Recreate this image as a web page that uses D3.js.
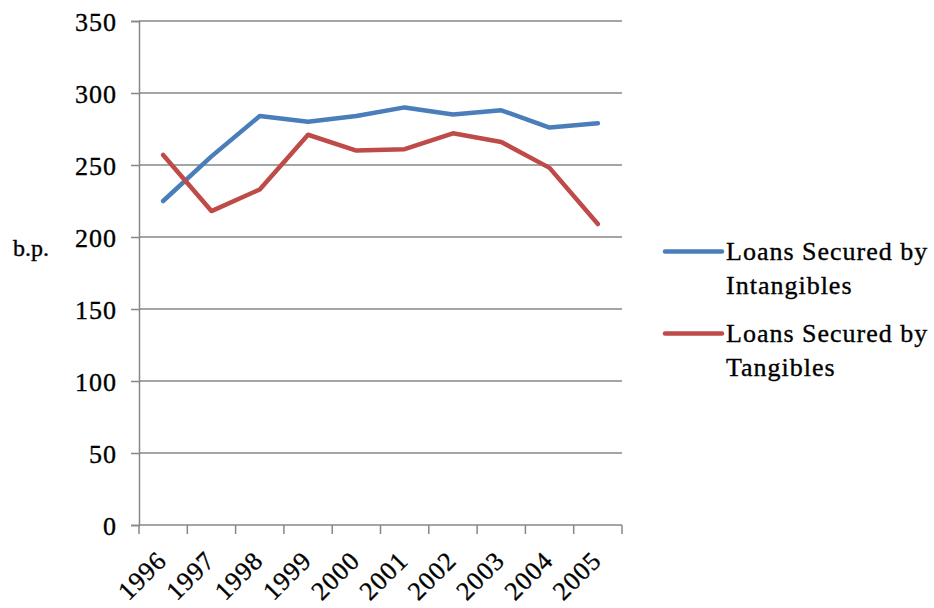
<!DOCTYPE html>
<html><head><meta charset="utf-8">
<script src="https://cdn.jsdelivr.net/npm/d3@7"></script>
<style>
html,body{margin:0;padding:0;background:#fff;}
svg{display:block;}
text{font-family:"Liberation Serif","Times New Roman",serif;fill:#000;stroke:#000;stroke-width:0.35px;}
</style></head>
<body>
<svg id="chart" width="934" height="608"></svg>
<script>
const years = ["1996","1997","1998","1999","2000","2001","2002","2003","2004","2005"];
const intangibles = [225, 256, 284, 280, 284, 290, 285, 288, 276, 279];
const tangibles = [257, 218, 233, 271, 260, 261, 272, 266, 248, 209];
const yTicks = [0, 50, 100, 150, 200, 250, 300, 350];
const seriesNames = [["Loans Secured by", "Intangibles"], ["Loans Secured by", "Tangibles"]];
const seriesColors = ["#4a7ebb", "#be4b48"];

const svg = d3.select("#chart");
const x = d3.scaleBand().domain(years).range([139, 622]);
const y = d3.scaleLinear().domain([0, 350]).range([525, 21]);
const grid = "#878787";

// gridlines
svg.append("g").selectAll("line").data(yTicks.filter(d => d > 0)).join("line")
  .attr("x1", 139).attr("x2", 622)
  .attr("y1", d => y(d)).attr("y2", d => y(d))
  .attr("stroke", grid).attr("stroke-width", 1.5);

// y axis
const yAxis = svg.append("g").attr("transform", "translate(139,0)")
  .call(d3.axisLeft(y).tickValues(yTicks).tickSize(8).tickPadding(0).tickFormat(d3.format("d")));
yAxis.select(".domain").attr("stroke", grid).attr("stroke-width", 1.5);
yAxis.selectAll(".tick line").attr("stroke", grid).attr("stroke-width", 1.5);
yAxis.selectAll(".tick text")
  .attr("x", -22).attr("dy", "0.36em")
  .style("font-family", "'Liberation Serif', serif").style("font-size", "26px")
  .attr("letter-spacing", "1").attr("fill", "#000");

// x axis baseline and ticks (at band boundaries)
svg.append("line").attr("x1", 139).attr("x2", 622).attr("y1", y(0)).attr("y2", y(0))
  .attr("stroke", grid).attr("stroke-width", 1.5);
const bounds = years.map(d => x(d)).concat([x(years[years.length - 1]) + x.bandwidth()]);
svg.append("g").selectAll("line").data(bounds).join("line")
  .attr("x1", d => d).attr("x2", d => d).attr("y1", y(0)).attr("y2", y(0) + 9)
  .attr("stroke", grid).attr("stroke-width", 1.5);
svg.append("g").selectAll("text").data(years).join("text")
  .attr("transform", d => `translate(${x(d) + x.bandwidth() / 2 + 5},${y(0) + 37}) rotate(-45)`)
  .attr("text-anchor", "end").style("font-size", "26px").attr("letter-spacing", "1")
  .text(d => d);

// b.p. label
svg.append("text").attr("x", 13).attr("y", 256).style("font-size", "24px").text("b.p.");

// lines
const line = d3.line().x((d, i) => x(years[i]) + x.bandwidth() / 2).y(d => y(d));
[intangibles, tangibles].forEach((s, i) => {
  svg.append("path").datum(s).attr("d", line).attr("fill", "none")
    .attr("stroke", seriesColors[i]).attr("stroke-width", 4.5)
    .attr("stroke-linejoin", "round").attr("stroke-linecap", "round");
});

// legend
const legendY = [251.5, 333.5];
seriesNames.forEach((names, i) => {
  const g = svg.append("g");
  g.append("line").attr("x1", 665).attr("x2", 722).attr("y1", legendY[i]).attr("y2", legendY[i])
    .attr("stroke", seriesColors[i]).attr("stroke-width", 4.5).attr("stroke-linecap", "round");
  names.forEach((t, j) => {
    g.append("text").attr("x", 726).attr("y", legendY[i] + 8.5 + j * 33.5)
      .style("font-size", "26px").attr("letter-spacing", "1").text(t);
  });
});
</script>
</body></html>
